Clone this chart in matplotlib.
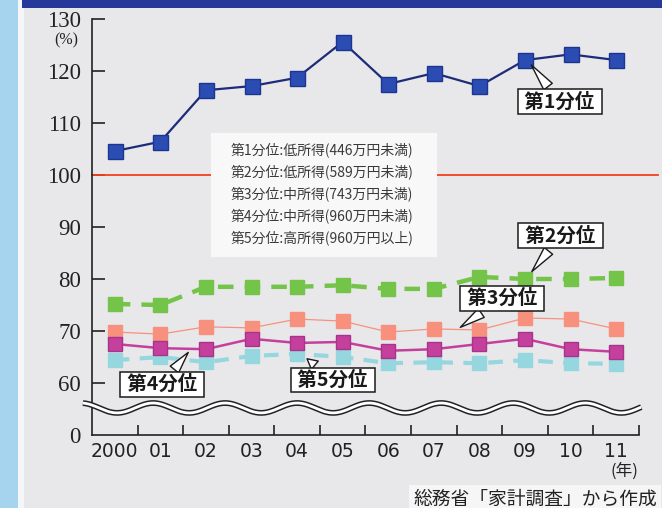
import numpy as np
import matplotlib.pyplot as plt
from matplotlib.patches import Rectangle

plt.rcParams['font.family'] = ['Noto Sans CJK JP', 'DejaVu Sans']

# 年ごとの比率 (%)
years = ['2000', '01', '02', '03', '04', '05', '06', '07', '08', '09', '10', '11']
q1 = [104.6, 106.4, 116.3, 117.1, 118.7, 125.6, 117.5, 119.6, 117.1, 122.1, 123.2, 122.1]
q2 = [75.2, 75.0, 78.5, 78.5, 78.5, 78.8, 78.1, 78.1, 80.4, 80.0, 80.0, 80.2]
q3 = [69.8, 69.4, 70.8, 70.6, 72.3, 71.9, 69.8, 70.4, 70.2, 72.5, 72.3, 70.4]
q4 = [67.5, 66.7, 66.5, 68.5, 67.7, 67.9, 66.2, 66.5, 67.5, 68.5, 66.5, 66.0]
q5 = [64.4, 65.0, 64.0, 65.2, 65.6, 65.0, 63.8, 64.0, 63.8, 64.4, 63.8, 63.7]

legend_lines = [
    '第1分位:低所得(446万円未満)',
    '第2分位:低所得(589万円未満)',
    '第3分位:中所得(743万円未満)',
    '第4分位:中所得(960万円未満)',
    '第5分位:高所得(960万円以上)',
]

bg = '#e8e8eb'
fig = plt.figure(figsize=(6.62, 5.08), dpi=100, facecolor=bg)

# page edge and heading band
fig.patches.append(Rectangle((0, 0), 18 / 662, 1, transform=fig.transFigure,
                             facecolor='#a6d3ee', edgecolor='none'))
fig.patches.append(Rectangle((18 / 662, 0), 6 / 662, 1, transform=fig.transFigure,
                             facecolor='#f4f6f8', edgecolor='none'))
fig.patches.append(Rectangle((22 / 662, 1 - 8 / 508), 1, 8 / 508, transform=fig.transFigure,
                             facecolor='#24399a', edgecolor='none'))

ax = fig.add_axes([92 / 662, 73 / 508, 547 / 662, 416 / 508])
ax.set_facecolor('none')
x = np.arange(len(years))

# 0 is drawn one step below 60 (broken axis)
ax.set_ylim(50, 130)
ax.set_xlim(-0.5, 11.5)

ax.plot([-0.5, 11.92], [100, 100], color='#f2401f', lw=1.3, clip_on=False, zorder=2)

ax.plot(x, q5, color='#96d6de', lw=3.0, ls=(0, (3.5, 2.5)), marker='s', ms=10.5,
        mec='#96d6de', zorder=3)
ax.plot(x, q3, color='#f7917e', lw=0.9, marker='s', ms=10.5, mec='#f7917e', zorder=4)
ax.plot(x, q4, color='#c4409c', lw=1.8, marker='s', ms=10.5, mec='#a8338a', zorder=5)
ax.plot(x, q2, color='#74c44a', lw=3.2, ls=(0, (3.5, 2.5)), marker='s', ms=10.5,
        mec='#74c44a', zorder=6)
ax.plot(x, q1, color='#1c2c78', lw=1.6, marker='s', ms=10.8, mfc='#2b4cb2',
        mec='#1e3590', zorder=7)

# legend panel
ax.add_patch(Rectangle((2.1, 84.2), 4.97, 23.9, facecolor='#f8f8f8', edgecolor='none',
                       zorder=8))
for i, line in enumerate(legend_lines):
    ax.text(2.55, 104.8 - i * 4.22, line, fontsize=10, color='#3a3a3a', va='center',
            ha='left', zorder=9)

# callout labels
callouts = [
    ('第1分位', (9.76, 114.1), (9.1, 121.6)),
    ('第2分位', (9.78, 88.3), (9.11, 81.0)),
    ('第3分位', (8.5, 76.25), (7.53, 70.4)),
    ('第4分位', (1.04, 59.7), (1.65, 66.3)),
    ('第5分位', (4.78, 60.6), (4.17, 65.0)),
]
for label, pos, tip in callouts:
    ax.annotate(' ' + label + ' ', xy=tip, xytext=pos, fontsize=14, fontweight='bold',
                color='#1a1a1a', ha='center', va='center', zorder=10,
                bbox=dict(boxstyle='square,pad=0.14', fc='white', ec='#1a1a1a', lw=1.1),
                arrowprops=dict(arrowstyle='wedge,tail_width=0.55,shrink_factor=0.5',
                                fc='white', ec='#1a1a1a', lw=1.0))

# axis break wave
wx = np.linspace(-0.7, 11.55, 600)
wy = 55.2 - 0.95 * np.cos(2 * np.pi * (wx - 0.05) / 1.58)
ax.plot(wx, wy, color='#222222', lw=4.2, clip_on=False, zorder=11, solid_capstyle='butt')
ax.plot(wx, wy, color='white', lw=2.0, clip_on=False, zorder=12, solid_capstyle='butt')

for s in ['top', 'right']:
    ax.spines[s].set_visible(False)
for s in ['left', 'bottom']:
    ax.spines[s].set_linewidth(1.2)
    ax.spines[s].set_color('#222222')

ax.set_yticks(range(50, 131, 10))
ax.tick_params(axis='y', direction='in', length=9, width=1.2, pad=8, color='#222222')
ax.set_xticks(x)
ax.set_xticks(np.arange(0.5, 12, 1), minor=True)
ax.tick_params(axis='x', which='major', length=0, pad=5)
ax.tick_params(axis='x', which='minor', direction='in', length=7, width=1.2,
               color='#222222')

ax.set_yticklabels(['0'] + [str(v) for v in range(60, 131, 10)],
                   fontdict={'family': 'Liberation Serif', 'size': 16.5, 'color': '#222222'})
ax.yaxis.get_major_ticks()[0].tick1line.set_visible(False)

ax.set_xticklabels(years, fontdict={'family': 'DejaVu Sans', 'size': 13.5,
                                    'color': '#222222'})

fig.text(66 / 662, 1 - 40 / 508, '(%)', family='Liberation Serif', fontsize=11.5,
         ha='center', va='center', color='#222222')
fig.text(624 / 662, 1 - 471 / 508, '(年)', fontsize=12, ha='center', va='center',
         color='#222222')
fig.text(535 / 662, 1 - 499 / 508, '総務省「家計調査」から作成', fontsize=13.5,
         ha='center', va='center', color='#222222',
         bbox=dict(boxstyle='square,pad=0.2', fc='#f6f6f6', ec='none'))

fig.savefig('out.png', dpi=100, facecolor=bg)
